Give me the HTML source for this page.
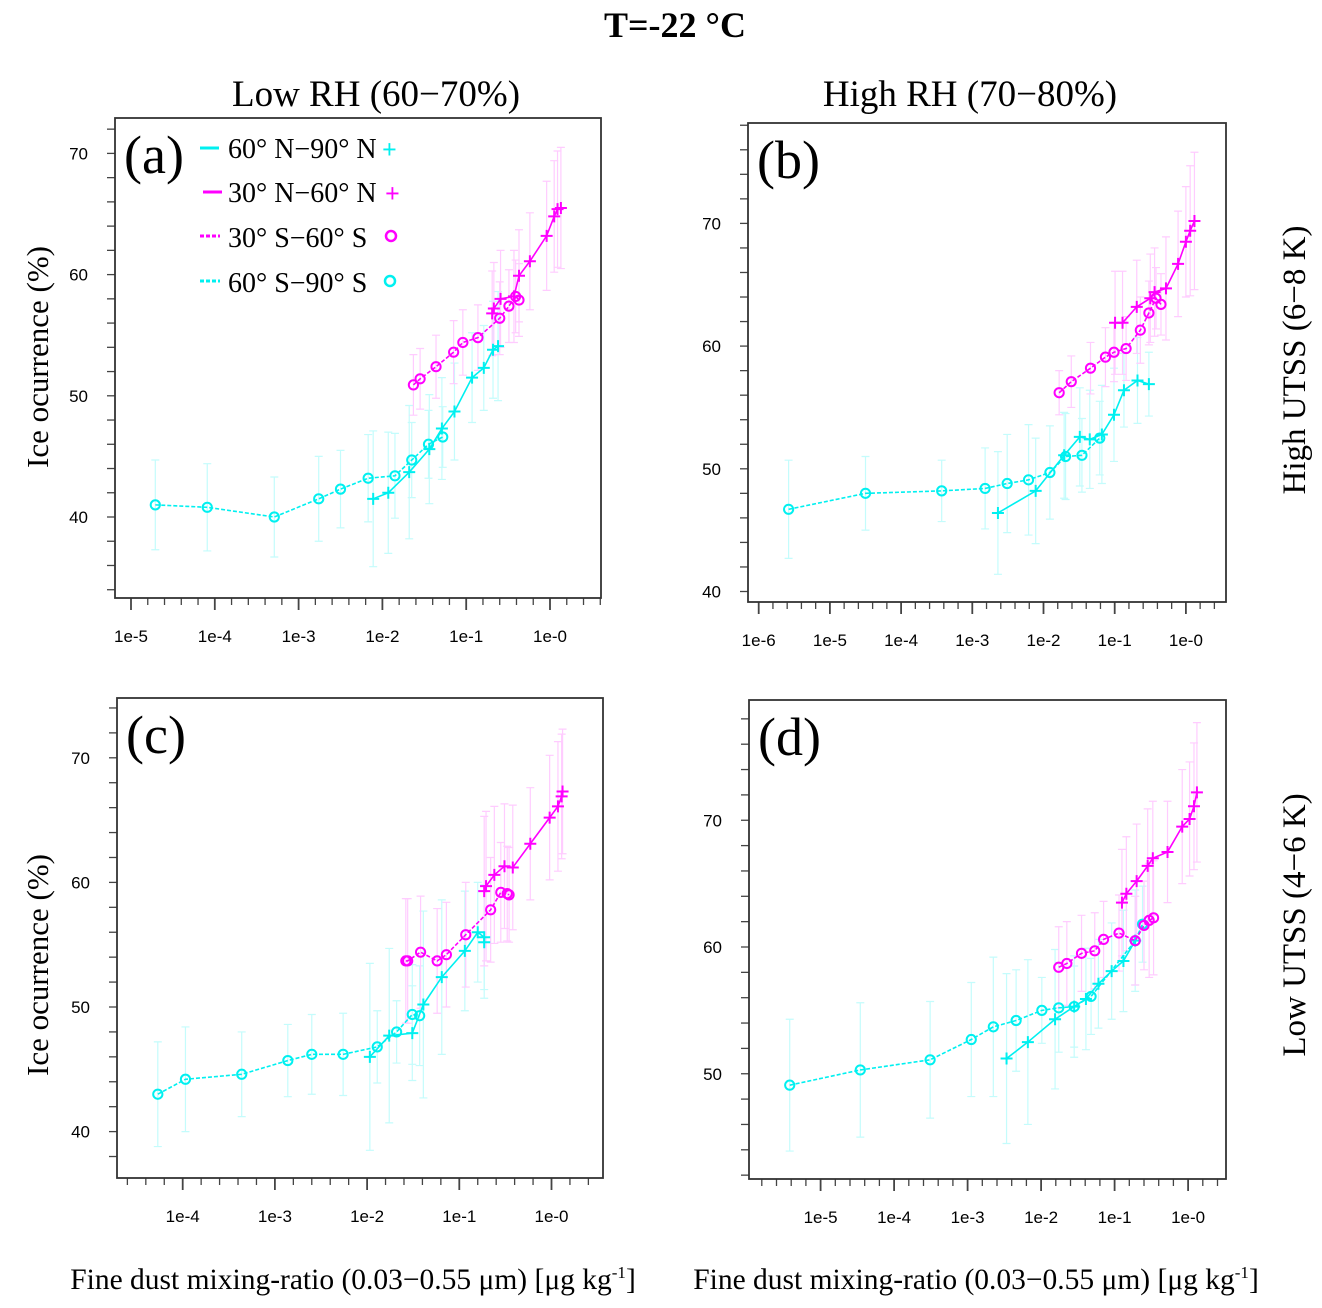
<!DOCTYPE html>
<html><head><meta charset="utf-8">
<style>
html,body{margin:0;padding:0;background:#fff;}
svg{display:block;}
text{font-family:"Liberation Serif",serif;}
.tick{font-family:"Liberation Sans",sans-serif;font-size:17px;fill:#000;}
</style></head>
<body>
<svg id="fig" width="1322" height="1308" viewBox="0 0 1322 1308" xmlns="http://www.w3.org/2000/svg">
<text x="675" y="37" font-size="36" font-weight="bold" text-anchor="middle">T=-22 °C</text>
<text x="376" y="106" font-size="37" text-anchor="middle">Low RH (60−70%)</text>
<text x="970" y="106" font-size="37" text-anchor="middle">High RH (70−80%)</text>
<text transform="translate(1305,360) rotate(-90)" font-size="33" text-anchor="middle">High UTSS (6−8 K)</text>
<text transform="translate(1305,925) rotate(-90)" font-size="33" text-anchor="middle">Low UTSS (4−6 K)</text>
<text transform="translate(48,357) rotate(-90)" font-size="31" text-anchor="middle">Ice ocurrence (%)</text>
<text transform="translate(48,965) rotate(-90)" font-size="31" text-anchor="middle">Ice ocurrence (%)</text>
<text x="353" y="1289" font-size="29.5" text-anchor="middle">Fine dust mixing-ratio (0.03−0.55 μm) [μg kg<tspan font-size="17" dy="-11">-1</tspan><tspan dy="11">]</tspan></text>
<text x="976" y="1289" font-size="29.5" text-anchor="middle">Fine dust mixing-ratio (0.03−0.55 μm) [μg kg<tspan font-size="17" dy="-11">-1</tspan><tspan dy="11">]</tspan></text>
<g id="legend">
  <line x1="200" y1="148" x2="219" y2="148" stroke="#00f0f0" stroke-width="3"/>
  <text x="228" y="158" font-size="28">60° N−90° N</text>
  <text x="382" y="158" font-size="26" fill="#00f0f0" font-weight="bold">+</text>
  <line x1="203" y1="192" x2="222" y2="192" stroke="#ff00ff" stroke-width="3"/>
  <text x="228" y="202" font-size="28">30° N−60° N</text>
  <text x="385" y="202" font-size="26" fill="#ff00ff" font-weight="bold">+</text>
  <line x1="200" y1="236" x2="220" y2="236" stroke="#ff00ff" stroke-width="3" stroke-dasharray="4,2"/>
  <text x="228" y="247" font-size="28">30° S−60° S</text>
  <circle cx="391" cy="236" r="5" fill="none" stroke="#ff00ff" stroke-width="2.5"/>
  <line x1="200" y1="281" x2="220" y2="281" stroke="#00f0f0" stroke-width="3" stroke-dasharray="4,2"/>
  <text x="228" y="292" font-size="28">60° S−90° S</text>
  <circle cx="390" cy="281" r="5" fill="none" stroke="#00f0f0" stroke-width="2.5"/>
</g>
</svg>
<script>
// ---- Panel (a) data: x = log10(mixing ratio), y = ice occurrence (%), e = error half-length
const aCirCX = [-4.71,-4.09,-3.29,-2.76,-2.50,-2.17,-1.85,-1.65,-1.45,-1.28];
const aCirCY = [41.0,40.8,40.0,41.5,42.3,43.2,43.4,44.7,46.0,46.6];
const aCirCE = [3.7,3.6,3.3,3.5,3.2,3.6,3.5,3.1,2.8,2.5];
const aPlsCX = [-2.11,-1.93,-1.68,-1.44,-1.29,-1.14,-0.93,-0.79,-0.68,-0.62];
const aPlsCY = [41.5,42.0,43.7,45.6,47.3,48.7,51.5,52.3,53.8,54.1];
const aPlsCE = [5.6,5.0,5.5,4.5,4.2,4.0,3.7,3.5,4.0,4.5];
const aCirMX = [-1.63,-1.55,-1.36,-1.15,-1.04,-0.86,-0.60,-0.49,-0.41,-0.37];
const aCirMY = [50.9,51.4,52.4,53.6,54.4,54.8,56.4,57.4,58.2,57.9];
const aCirME = [2.5,2.5,2.6,2.6,2.7,2.7,3.0,3.0,3.0,3.0];
const aPlsMX = [-0.69,-0.67,-0.59,-0.43,-0.37,-0.24,-0.04,0.05,0.09,0.13];
const aPlsMY = [56.8,57.2,58.0,58.2,59.9,61.1,63.2,64.8,65.4,65.5];
const aPlsME = [3.5,3.8,4.0,3.8,3.8,4.0,4.5,4.6,4.8,5.0];
// ---- Panel (b)
const bCirCX = [-5.58,-4.50,-3.43,-2.82,-2.51,-2.21,-1.91,-1.69,-1.46,-1.21];
const bCirCY = [46.7,48.0,48.2,48.4,48.8,49.1,49.7,51.0,51.1,52.5];
const bCirCE = [4.0,3.0,2.5,3.3,4.0,4.5,3.8,3.5,3.0,3.0];
const bPlsCX = [-2.64,-2.11,-1.71,-1.49,-1.35,-1.18,-1.01,-0.87,-0.68,-0.52];
const bPlsCY = [46.4,48.2,51.1,52.6,52.4,52.8,54.4,56.4,57.2,56.9];
const bPlsCE = [5.0,4.3,3.5,4.0,4.0,4.0,3.8,3.0,3.5,2.6];
const bCirMX = [-1.78,-1.61,-1.34,-1.13,-1.01,-0.84,-0.64,-0.52,-0.42,-0.35];
const bCirMY = [56.2,57.1,58.2,59.1,59.5,59.8,61.3,62.7,63.9,63.4];
const bCirME = [1.8,2.1,2.1,2.4,2.4,2.6,2.7,2.6,2.5,2.5];
const bPlsMX = [-0.995,-0.89,-0.69,-0.50,-0.44,-0.28,-0.11,0.00,0.06,0.12];
const bPlsMY = [61.9,61.9,63.2,63.9,64.4,64.7,66.7,68.5,69.4,70.2];
const bPlsME = [4.2,4.2,3.8,3.6,3.6,4.2,4.3,4.5,5.3,5.6];
// ---- Panel (c)
const cCirCX = [-4.27,-3.97,-3.36,-2.86,-2.60,-2.26,-1.89,-1.68,-1.51,-1.43];
const cCirCY = [43.0,44.2,44.6,45.7,46.2,46.2,46.8,48.0,49.4,49.3];
const cCirCE = [4.2,4.2,3.4,2.9,3.2,3.3,2.9,2.5,4.0,4.0];
const cPlsCX = [-1.97,-1.76,-1.51,-1.39,-1.19,-0.94,-0.80,-0.73,-0.73];
const cPlsCY = [46.0,47.7,47.9,50.2,52.4,54.5,56.0,55.6,55.2];
const cPlsCE = [7.5,7.0,3.8,7.5,6.2,4.8,4.0,4.2,4.5];
const cCirMX = [-1.58,-1.56,-1.42,-1.24,-1.14,-0.93,-0.66,-0.55,-0.48,-0.46];
const cCirMY = [53.7,53.7,54.4,53.7,54.2,55.8,57.8,59.2,59.1,59.0];
const cCirME = [5.0,5.0,4.5,4.2,4.2,4.2,4.2,4.0,3.8,3.8];
const cPlsMX = [-0.73,-0.71,-0.62,-0.51,-0.42,-0.23,-0.02,0.07,0.11,0.12];
const cPlsMY = [59.3,59.7,60.6,61.3,61.2,63.1,65.2,66.1,66.9,67.3];
const cPlsME = [6.0,6.0,5.5,5.0,5.0,4.5,5.0,5.2,5.0,5.0];
// ---- Panel (d)
const dCirCX = [-5.42,-4.46,-3.51,-2.95,-2.65,-2.34,-1.99,-1.76,-1.55,-1.32,-0.72,-0.62];
const dCirCY = [49.1,50.3,51.1,52.7,53.7,54.2,55.0,55.2,55.3,56.1,60.5,61.8];
const dCirCE = [5.2,5.3,4.6,4.5,5.5,4.0,2.6,3.5,3.2,3.0,4.0,3.0];
const dPlsCX = [-2.47,-2.18,-1.81,-1.55,-1.39,-1.22,-1.04,-0.88,-0.72];
const dPlsCY = [51.2,52.5,54.3,55.3,55.9,57.1,58.1,58.9,60.5];
const dPlsCE = [6.7,6.5,5.5,4.0,4.0,3.5,3.8,4.0,3.5];
const dCirMX = [-1.76,-1.65,-1.45,-1.27,-1.15,-0.94,-0.72,-0.60,-0.53,-0.47];
const dCirMY = [58.4,58.7,59.5,59.7,60.6,61.1,60.5,61.7,62.1,62.3];
const dCirME = [3.2,3.3,3.0,3.0,3.0,3.0,3.5,3.5,4.5,4.5];
const dPlsMX = [-0.90,-0.84,-0.70,-0.55,-0.48,-0.28,-0.08,0.02,0.08,0.12];
const dPlsMY = [63.5,64.2,65.2,66.4,67.0,67.5,69.5,70.1,71.1,72.2];
const dPlsME = [4.2,4.5,4.5,4.5,4.5,4.0,4.5,4.5,5.0,5.5];
// tick labels
const aXTicks = ['1e-5','1e-4','1e-3','1e-2','1e-1','1e-0'];
const bXTicks = ['1e-6','1e-5','1e-4','1e-3','1e-2','1e-1','1e-0'];
const cXTicks = ['1e-4','1e-3','1e-2','1e-1','1e-0'];
const dXTicks = ['1e-5','1e-4','1e-3','1e-2','1e-1','1e-0'];
const aYTicks = [40,50,60,70];
const bYTicks = [40,50,60,70];
const cYTicks = [40,50,60,70];
const dYTicks = [50,60,70];

const NS='http://www.w3.org/2000/svg';
const svg=document.getElementById('fig');
function mk(tag,attrs,parent){const e=document.createElementNS(NS,tag);for(const k in attrs)e.setAttribute(k,attrs[k]);(parent||svg).appendChild(e);return e;}
const CY='#00f0f0', MG='#ff00ff', CYL='#c4fcfc', MGL='#ffccff';

function panel(p){
  const g=mk('g',{});
  
  
  const xs=v=>p.x0+(v-p.lx0)*p.dx;
  const ys=v=>p.y0-(v-p.v0)*p.dy;
  const L=p.left,R=p.right,T=p.top,B=p.bottom;
  const vmin=p.v0-(B-p.y0)/p.dy, vmax=p.v0+(p.y0-T)/p.dy;
  for(let v=Math.ceil(vmin/2)*2; v<=vmax; v+=2){
    const t=mk('line',{x1:L-8,x2:L,y1:ys(v),y2:ys(v),stroke:'#444','stroke-width':1.3},g);
    
    
  }
  p.yt.forEach(v=>{
    const t=mk('text',{x:L-27,y:ys(v)+6,'text-anchor':'end',class:'tick'},g);
    t.textContent=v;
    
    
  });
  const lmin=p.lx0+(L-p.x0)/p.dx, lmax=p.lx0+(R-p.x0)/p.dx;
  for(let k=Math.ceil(lmin*5); k<=Math.floor(lmax*5); k++){
    const major=(k%5===0);
    const t=mk('line',{x1:xs(k/5),x2:xs(k/5),y1:B,y2:B+(major?12:7),stroke:'#444','stroke-width':major?1.8:1.3},g);
    
    
  }
  p.xt.forEach((s,i)=>{
    const t=mk('text',{x:xs(p.lx0+i),y:B+44,'text-anchor':'middle',class:'tick'},g);
    t.textContent=s;
    
    
  });
  const fr=mk('rect',{x:L,y:T,width:R-L,height:B-T,fill:'none',stroke:'#333','stroke-width':1.8},g);
  
  
  const lab=mk('text',{x:L+9,y:T+55,'font-size':54},g);
  lab.textContent='('+p.id+')';
  
  
  const series=[
    {x:p.cc[0],y:p.cc[1],e:p.cc[2],col:CY,lc:CYL,dash:'4,2',m:'circle',n:'60s-90s'},
    {x:p.pc[0],y:p.pc[1],e:p.pc[2],col:CY,lc:CYL,dash:null,m:'plus',n:'60n-90n'},
    {x:p.cm[0],y:p.cm[1],e:p.cm[2],col:MG,lc:MGL,dash:'4,2',m:'circle',n:'30s-60s'},
    {x:p.pm[0],y:p.pm[1],e:p.pm[2],col:MG,lc:MGL,dash:null,m:'plus',n:'30n-60n'}
  ];
  series.forEach(s=>{
    s.x.forEach((lx,i)=>{
      const X=xs(lx),Y1=ys(s.y[i]-s.e[i]),Y2=ys(s.y[i]+s.e[i]);
      const eb=mk('path',{d:`M${X},${Y1}V${Y2}M${X-4},${Y1}H${X+4}M${X-4},${Y2}H${X+4}`,stroke:s.lc,'stroke-width':1.2,fill:'none'},g);
      
      
    });
  });
  series.forEach(s=>{
    const pts=s.x.map((lx,i)=>xs(lx)+','+ys(s.y[i])).join(' ');
    const a={points:pts,fill:'none',stroke:s.col,'stroke-width':1.6};
    if(s.dash)a['stroke-dasharray']=s.dash;
    const pl=mk('polyline',a,g);
    
    
    s.x.forEach((lx,i)=>{
      const X=xs(lx),Y=ys(s.y[i]);
      let m;
      if(s.m==='circle') m=mk('circle',{cx:X,cy:Y,r:4.6,fill:'none',stroke:s.col,'stroke-width':2},g);
      else m=mk('path',{d:`M${X-6},${Y}H${X+6}M${X},${Y-6}V${Y+6}`,stroke:s.col,'stroke-width':2},g);
      
      
    });
  });
}
panel({id:'a',left:115,right:601,top:118,bottom:598,x0:131,lx0:-5,dx:83.8,y0:517,v0:40,dy:12.12,xt:aXTicks,yt:aYTicks,
  cc:[aCirCX,aCirCY,aCirCE],pc:[aPlsCX,aPlsCY,aPlsCE],cm:[aCirMX,aCirMY,aCirME],pm:[aPlsMX,aPlsMY,aPlsME]});
panel({id:'b',left:748,right:1226,top:123,bottom:602,x0:758.7,lx0:-6,dx:71.2,y0:591.5,v0:40,dy:12.27,xt:bXTicks,yt:bYTicks,
  cc:[bCirCX,bCirCY,bCirCE],pc:[bPlsCX,bPlsCY,bPlsCE],cm:[bCirMX,bCirMY,bCirME],pm:[bPlsMX,bPlsMY,bPlsME]});
panel({id:'c',left:117,right:603,top:698,bottom:1178,x0:182.7,lx0:-4,dx:92.2,y0:1131.6,v0:40,dy:12.46,xt:cXTicks,yt:cYTicks,
  cc:[cCirCX,cCirCY,cCirCE],pc:[cPlsCX,cPlsCY,cPlsCE],cm:[cCirMX,cCirMY,cCirME],pm:[cPlsMX,cPlsMY,cPlsME]});
panel({id:'d',left:749,right:1226,top:700,bottom:1179,x0:820.6,lx0:-5,dx:73.5,y0:947,v0:60,dy:12.675,xt:dXTicks,yt:dYTicks,
  cc:[dCirCX,dCirCY,dCirCE],pc:[dPlsCX,dPlsCY,dPlsCE],cm:[dCirMX,dCirMY,dCirME],pm:[dPlsMX,dPlsMY,dPlsME]});
svg.appendChild(document.getElementById('legend'));
</script>
</body></html>
